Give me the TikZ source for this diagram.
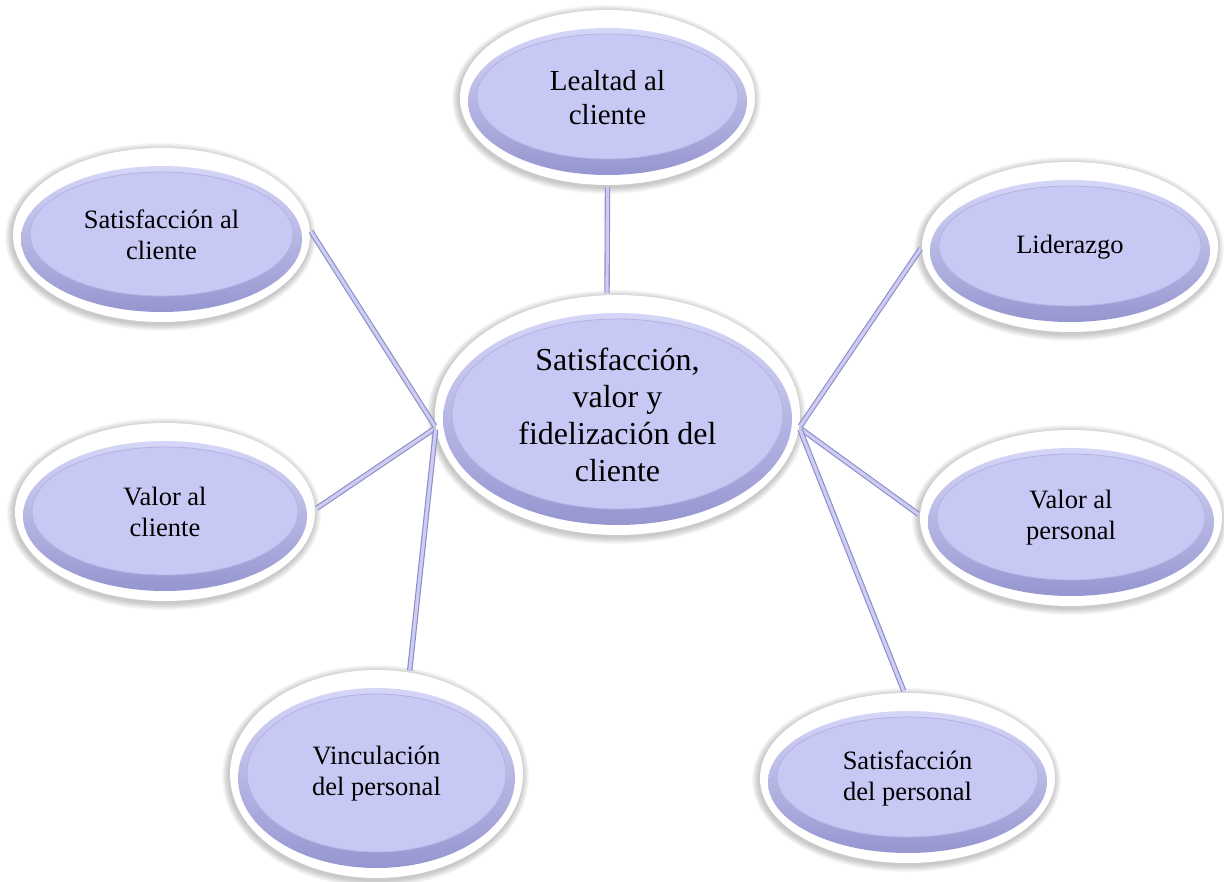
\documentclass[tikz,border=0pt]{standalone}
\usepackage{fontspec}
\setmainfont{Liberation Serif}
\usetikzlibrary{shapes.geometric}

\definecolor{bubblefill}{RGB}{200,200,245}
\definecolor{bubbleline}{RGB}{178,178,228}
\definecolor{ringtop}{RGB}{214,214,248}
\definecolor{ringbot}{RGB}{150,150,208}
\definecolor{linkfill}{RGB}{204,204,244}
\definecolor{linkedge}{RGB}{140,140,196}

% layered backdrop of one bubble: soft shadow, white rim, bevel ring, face
\newcommand{\bubbleback}[4]{%
  \foreach \k in {1,...,7}{%
    \fill[black, opacity=0.03] (#1-1,#2+2) ellipse [x radius=#3+\k, y radius=#4+\k];}
  \fill[white] (#1,#2) ellipse [x radius=#3, y radius=#4];
  \shade[top color=ringtop, bottom color=ringbot]
    (#1,#2+4) ellipse [x radius=#3-8, y radius=#4-14];
  \fill[bubblefill, draw=bubbleline, line width=0.8pt]
    (#1,#2-1) ellipse [x radius=#3-17, y radius=#4-25];
}

\begin{document}
\begin{tikzpicture}[x=1pt, y=-1pt,
  bubble/.style={ellipse, inner sep=0pt, align=center, text=black,
    font=\fontsize{26.5pt}{31pt}\selectfont},
  link/.style={draw=linkedge, line width=1.1pt, double=linkfill,
    double distance=3.2pt, shorten <=2pt, shorten >=2pt}]

\useasboundingbox (0,0) rectangle (1224,882);
\fill[white] (0,0) rectangle (1224,882);

% backdrops
\bubbleback{607.5}{97.5}{147.5}{87.5}
\bubbleback{161.5}{235}{148.5}{87}
\bubbleback{1070}{247}{148}{85}
\bubbleback{165}{512}{150}{89}
\bubbleback{1071}{518}{151}{88}
\bubbleback{376.5}{774}{146.5}{104}
\bubbleback{907.5}{778}{147.5}{85}
\bubbleback{617.5}{415}{182.5}{120}

% named nodes carrying the labels
\node[bubble, minimum width=295pt, minimum height=175pt,
  font=\fontsize{29pt}{34pt}\selectfont] (lea) at (607.5,97.5) {Lealtad al\\cliente};
\node[bubble, minimum width=297pt, minimum height=174pt] (sac) at (161.5,235) {Satisfacción al\\cliente};
\node[bubble, minimum width=296pt, minimum height=170pt] (lid) at (1070,247) {Liderazgo};
\node[bubble, minimum width=300pt, minimum height=178pt] (vac) at (165,512) {Valor al\\cliente};
\node[bubble, minimum width=302pt, minimum height=176pt] (vap) at (1071,518) {Valor al\\personal};
\node[bubble, minimum width=293pt, minimum height=208pt] (vnp) at (376.5,774) {Vinculación\\del personal};
\node[bubble, minimum width=295pt, minimum height=170pt] (sdp) at (907.5,778) {Satisfacción\\del personal};
\node[bubble, minimum width=365pt, minimum height=240pt,
  font=\fontsize{32pt}{37pt}\selectfont] (cen) at (617.5,415) {Satisfacción,\\valor y\\fidelización del\\cliente};

% connectors
\draw[link] (lea.south) -- (cen.95);
\draw[link] (sac.2) -- (cen.184);
\draw[link] (vac.1) -- (cen.184);
\draw[link] (vnp.72) -- (cen.184);
\draw[link] (lid.180) -- (cen.356);
\draw[link] (vap.179) -- (cen.356);
\draw[link] (sdp.92) -- (cen.356);
\end{tikzpicture}
\end{document}
